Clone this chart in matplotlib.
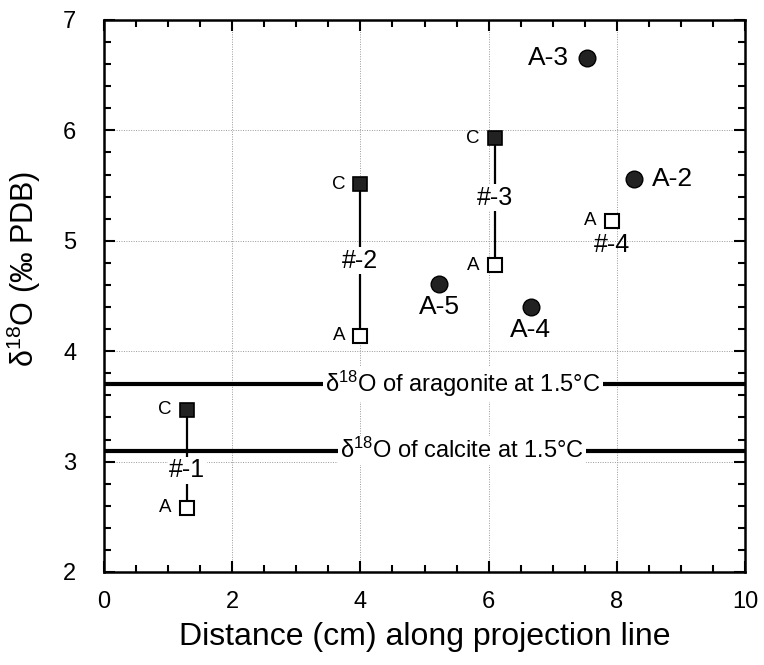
import matplotlib
matplotlib.use("Agg")
import matplotlib.pyplot as plt
from matplotlib import font_manager as fm
from matplotlib.ticker import MultipleLocator

names = {f.name for f in fm.fontManager.ttflist}
FONT = "Liberation Sans Narrow" if "Liberation Sans Narrow" in names else "Liberation Sans"
plt.rcParams["font.family"] = [FONT, "DejaVu Sans"]
plt.rcParams["mathtext.fontset"] = "custom"
plt.rcParams["mathtext.rm"] = FONT
plt.rcParams["mathtext.it"] = FONT

# ---- data ----
pair_names = ["#-1", "#-2", "#-3"]
pair_x = [1.3, 4.0, 6.1]
pair_c = [3.47, 5.51, 5.93]
pair_a = [2.58, 4.14, 4.78]
pair_label_y = [2.92, 4.82, 5.39]

single_a_name = "#-4"
single_a_x = [7.92]
single_a_y = [5.18]
single_label_y = [4.96]

dot_names = ["A-3", "A-2", "A-5", "A-4"]
dot_x = [7.53, 8.27, 5.23, 6.66]
dot_y = [6.66, 5.56, 4.61, 4.40]

ref_names = [r"δ$^{18}$O of aragonite at 1.5°C", r"δ$^{18}$O of calcite at 1.5°C"]
ref_y = [3.70, 3.10]
ref_label_x = [5.6, 5.58]

fig = plt.figure(figsize=(7.64, 6.65), dpi=100)
ax = fig.add_axes([104/764, 1-572/665, 641/764, 552/665])
ax.set_xlim(0, 10)
ax.set_ylim(2, 7)

white = dict(facecolor="white", edgecolor="none", pad=1.0)

# reference lines
for name, y, lx in zip(ref_names, ref_y, ref_label_x):
    ax.axhline(y, color="black", lw=3.0, zorder=2)
    ax.text(lx, y, name, ha="center", va="center", fontsize=17, zorder=4,
            bbox=dict(facecolor="white", edgecolor="none", pad=1.5))

# C-A pairs
for name, x, c, a, ly in zip(pair_names, pair_x, pair_c, pair_a, pair_label_y):
    ax.plot([x, x], [c, a], color="black", lw=1.6, zorder=3)
    ax.text(x, ly, name, ha="center", va="center", fontsize=18, zorder=5, bbox=white)
    ax.plot([x], [c], marker="s", ms=10.5, mfc="#222222", mec="black", mew=1.2, ls="none", zorder=6)
    ax.plot([x], [a], marker="s", ms=10, mfc="white", mec="black", mew=1.5, ls="none", zorder=6)
    ax.text(x - 0.24, c, "C", ha="right", va="center", fontsize=13.5, zorder=6)
    ax.text(x - 0.24, a, "A", ha="right", va="center", fontsize=13.5, zorder=6)

# single A (#-4)
ax.plot(single_a_x, single_a_y, marker="s", ms=10, mfc="white", mec="black", mew=1.5, ls="none", zorder=6)
ax.text(single_a_x[0] - 0.24, single_a_y[0], "A", ha="right", va="center", fontsize=13.5, zorder=6)
ax.text(single_a_x[0], single_label_y[0], single_a_name, ha="center", va="center", fontsize=18, zorder=5)

# dots
ax.plot(dot_x, dot_y, marker="o", ms=12, mfc="#222222", mec="black", ls="none", zorder=6)
offsets = {"A-3": (-0.28, 0, "right", "center"),
           "A-2": (0.28, 0, "left", "center"),
           "A-5": (0, -0.1, "center", "top"),
           "A-4": (0, -0.1, "center", "top")}
for n, x, y in zip(dot_names, dot_x, dot_y):
    dx, dy, ha, va = offsets[n]
    ax.text(x + dx, y + dy, n, ha=ha, va=va, fontsize=19, zorder=6)

# axes styling
ax.xaxis.set_major_locator(MultipleLocator(2))
ax.xaxis.set_minor_locator(MultipleLocator(0.5))
ax.yaxis.set_major_locator(MultipleLocator(1))
ax.yaxis.set_minor_locator(MultipleLocator(0.2))
ax.tick_params(which="both", direction="in", top=True, right=True, width=1.5, color="black")
ax.tick_params(which="major", length=8, labelsize=17)
ax.tick_params(which="minor", length=5)
ax.tick_params(axis="x", which="major", pad=14)
ax.tick_params(axis="y", which="major", pad=20)
for s in ax.spines.values():
    s.set_linewidth(1.8)
ax.grid(True, which="major", color="#999999", lw=0.7, ls=(0, (1, 1.5)), zorder=1)
ax.set_axisbelow(True)

ax.set_xlabel("Distance (cm) along projection line", fontsize=23, labelpad=6)
ax.set_ylabel(r"δ$^{18}$O (‰ PDB)", fontsize=22)
ax.yaxis.set_label_coords(-0.095, 0.55)

fig.savefig("out.png", dpi=100)
